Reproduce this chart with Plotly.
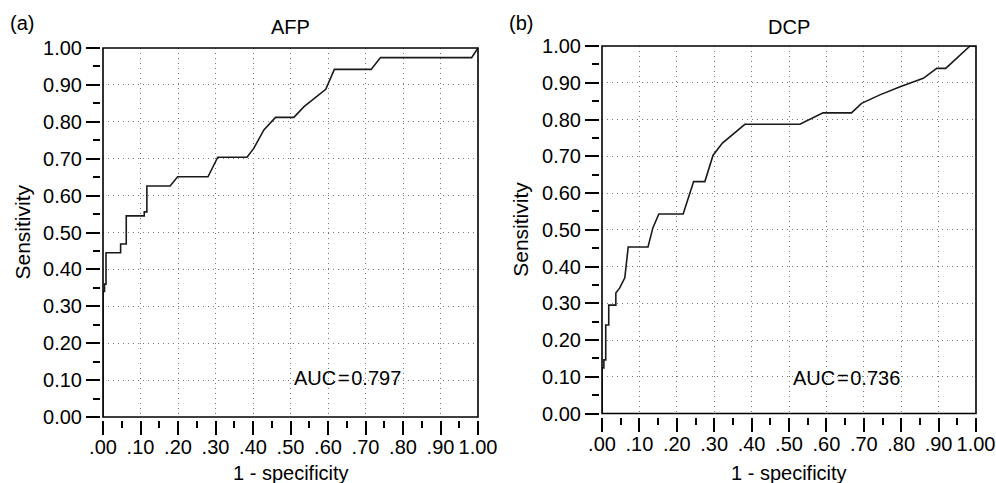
import plotly.graph_objects as go

# ---------------- data ----------------
afp_fpr = [0.0, 0.0, 0.004, 0.004, 0.008, 0.008, 0.047, 0.047, 0.062, 0.062, 0.110, 0.110, 0.117, 0.117,
           0.179, 0.199, 0.280, 0.306, 0.384, 0.402, 0.429, 0.460, 0.509, 0.536, 0.594, 0.617, 0.715,
           0.740, 0.983, 1.0]
afp_tpr = [0.0, 0.340, 0.340, 0.360, 0.360, 0.445, 0.445, 0.469, 0.469, 0.545, 0.545, 0.556, 0.556, 0.626,
           0.626, 0.651, 0.651, 0.704, 0.704, 0.728, 0.778, 0.812, 0.812, 0.841, 0.888, 0.942, 0.942,
           0.974, 0.974, 1.0]

dcp_fpr = [0.0, 0.0, 0.005, 0.005, 0.010, 0.010, 0.018, 0.018, 0.037, 0.037, 0.047, 0.061, 0.070, 0.123,
           0.136, 0.152, 0.217, 0.245, 0.275, 0.297, 0.322, 0.360, 0.382, 0.529, 0.591, 0.667, 0.694,
           0.743, 0.797, 0.859, 0.895, 0.919, 0.944, 0.984, 1.0]
dcp_tpr = [0.0, 0.124, 0.124, 0.146, 0.146, 0.241, 0.241, 0.295, 0.295, 0.328, 0.341, 0.369, 0.453, 0.453,
           0.505, 0.543, 0.543, 0.631, 0.631, 0.703, 0.736, 0.767, 0.787, 0.787, 0.818, 0.818, 0.844,
           0.867, 0.889, 0.912, 0.939, 0.939, 0.962, 1.0, 1.0]

tick_vals = [i / 10 for i in range(11)]
x_tick_text = [".00", ".10", ".20", ".30", ".40", ".50", ".60", ".70", ".80", ".90", "1.00"]
y_tick_text = ["0.00", "0.10", "0.20", "0.30", "0.40", "0.50", "0.60", "0.70", "0.80", "0.90", "1.00"]

panel_titles = ["AFP", "DCP"]
panel_letters = ["(a)", "(b)"]
auc_texts = ["AUC\u200a=\u200a0.797", "AUC\u200a=\u200a0.736"]

# ---------------- layout geometry (pixels) ----------------
W, H = 996, 483
FONT = "Liberation Sans, Arial, Helvetica, sans-serif"
panels = [
    dict(l=103, r=478, t=48, b=417),
    dict(l=602, r=976, t=46, b=413.5),
]
GAP = 3

fig = go.Figure()
line_style = dict(color="#1a1a1a", width=1.6)
fig.add_trace(go.Scatter(x=afp_fpr, y=afp_tpr, mode="lines", line=line_style,
                         xaxis="x", yaxis="y", showlegend=False))
fig.add_trace(go.Scatter(x=dcp_fpr, y=dcp_tpr, mode="lines", line=line_style,
                         xaxis="x2", yaxis="y2", showlegend=False))

layout = dict(
    width=W, height=H, autosize=False,
    margin=dict(l=0, r=0, t=0, b=0),
    paper_bgcolor="white", plot_bgcolor="white",
    font=dict(family=FONT, size=20, color="black"),
    showlegend=False,
)

annotations = []
shapes = []
for i, p in enumerate(panels):
    sfx = "" if i == 0 else str(i + 1)
    xd = [p["l"] / W, p["r"] / W]
    yd = [(H - p["b"]) / H, (H - p["t"]) / H]
    common = dict(
        range=[0, 1], tickvals=tick_vals, ticks="outside", tickwidth=1.5, tickcolor="black",
        ticklen=14, showgrid=True, gridcolor="#777777", griddash="1px,4px", gridwidth=1.2,
        showline=False, zeroline=False, automargin=False, fixedrange=True,
        minor=dict(dtick=0.05, tick0=0, ticks="outside", ticklen=7, tickwidth=1.5,
                   tickcolor="black", showgrid=False),
        tickfont=dict(family=FONT, size=20, color="black"),
    )
    layout["xaxis" + sfx] = dict(common, domain=xd, anchor="free",
                                 position=(H - p["b"] - GAP) / H,
                                 ticktext=x_tick_text, ticklabelstandoff=-5)
    layout["yaxis" + sfx] = dict(common, domain=yd, anchor="free",
                                 position=(p["l"] - GAP) / W,
                                 ticktext=y_tick_text)
    # frame
    shapes.append(dict(type="rect", xref="x" + sfx + " domain", yref="y" + sfx + " domain",
                       x0=0, x1=1, y0=0, y1=1, line=dict(color="black", width=1.6),
                       layer="above"))
    cx = (p["l"] + p["r"]) / 2
    cy = (p["t"] + p["b"]) / 2
    # panel title
    annotations.append(dict(text=panel_titles[i], x=cx / W, y=(H - 27) / H, xref="paper", yref="paper",
                            showarrow=False, xanchor="center", yanchor="middle",
                            font=dict(family=FONT, size=20)))
    # panel letter
    annotations.append(dict(text=panel_letters[i], x=(p["l"] - 95) / W, y=(H - 23) / H,
                            xref="paper", yref="paper", showarrow=False,
                            xanchor="left", yanchor="middle", font=dict(family=FONT, size=20)))
    # axis titles
    annotations.append(dict(text="Sensitivity", x=(p["l"] - 81) / W, y=(H - cy) / H,
                            xref="paper", yref="paper", showarrow=False, textangle=-90,
                            xanchor="center", yanchor="middle", font=dict(family=FONT, size=21)))
    annotations.append(dict(text="1 - specificity", x=cx / W, y=(H - 473) / H,
                            xref="paper", yref="paper", showarrow=False,
                            xanchor="center", yanchor="middle", font=dict(family=FONT, size=20)))
    # AUC
    annotations.append(dict(text=auc_texts[i], x=(p["l"] + 189) / W, y=(H - 377.5) / H,
                            xref="paper", yref="paper", showarrow=False,
                            xanchor="left", yanchor="middle", font=dict(family=FONT, size=20)))

layout["annotations"] = annotations
layout["shapes"] = shapes
fig.update_layout(**layout)
fig.write_html("out.html")
